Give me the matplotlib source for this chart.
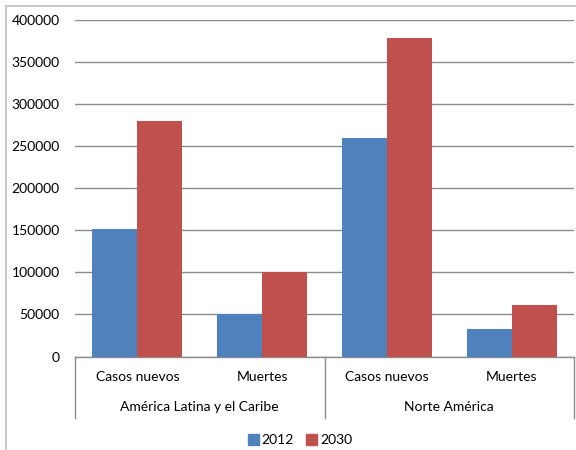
import matplotlib
matplotlib.use("Agg")
import matplotlib.pyplot as plt
from matplotlib.lines import Line2D
from matplotlib.patches import Rectangle
import numpy as np

plt.rcParams['font.family'] = ['Lato', 'DejaVu Sans']

regions = ["América Latina y el Caribe", "Norte América"]
subcats = ["Casos nuevos", "Muertes"]
series_names = ["2012", "2030"]
vals_2012 = [152000, 50000, 260000, 33000]
vals_2030 = [280000, 100000, 379000, 61000]
colors = ["#4F81BD", "#C0504D"]
yticks = [0, 50000, 100000, 150000, 200000, 250000, 300000, 350000, 400000]

W, H = 576, 450
fig = plt.figure(figsize=(W/100, H/100), dpi=100)
x0, x1, y0, y1 = 75, 574, 356.5, 20
ax = fig.add_axes([x0/W, 1 - y0/H, (x1-x0)/W, (y0-y1)/H])

n = len(vals_2012)
x = np.arange(n)
bw = 0.36
ax.bar(x - bw/2, vals_2012, width=bw, color=colors[0], label=series_names[0], zorder=3)
ax.bar(x + bw/2, vals_2030, width=bw, color=colors[1], label=series_names[1], zorder=3)

ax.set_xlim(-0.5, n - 0.5)
ax.set_ylim(0, 400000)
ax.set_yticks(yticks)
ax.set_yticklabels([str(v) for v in yticks], fontsize=10, color="#000000")
ax.tick_params(axis='y', length=0, pad=11)
ax.set_xticks([])
ax.grid(axis='y', color="#8C8C8C", linewidth=1.0, zorder=0)
for s in ['left', 'right', 'top']:
    ax.spines[s].set_visible(False)
ax.spines['bottom'].set_color("#8C8C8C")
ax.spines['bottom'].set_linewidth(1.0)

trans = ax.get_xaxis_transform()
# category labels
labels = subcats * len(regions)
for i, lab in enumerate(labels):
    ax.text(x[i], -0.062, lab, transform=trans, ha='center', va='center', fontsize=10)
for j, reg in enumerate(regions):
    ax.text(2*j + 0.5, -0.151, reg, transform=trans, ha='center', va='center', fontsize=10)
# separators
for xs in [-0.5, 1.5, 3.5]:
    ax.add_line(Line2D([xs, xs], [0, -0.182], transform=trans, color="#8C8C8C",
                       linewidth=1.0, clip_on=False))

# outer frame
fig.add_artist(Line2D([5.5/W, 5.5/W], [0, 1 - 5.5/H], transform=fig.transFigure, color="#BFBFBF", linewidth=1.2))
fig.add_artist(Line2D([5.5/W, 1], [1 - 5.5/H, 1 - 5.5/H], transform=fig.transFigure, color="#BFBFBF", linewidth=1.2))

handles = [Rectangle((0, 0), 1, 1, color=c) for c in colors]
fig.legend(handles, series_names, loc='center', bbox_to_anchor=(300/W, 1 - 440/H),
           ncol=2, frameon=False, fontsize=10, handlelength=0.8, handleheight=0.8,
           handletextpad=0.2, columnspacing=0.9)

fig.savefig("out.png", dpi=100)
